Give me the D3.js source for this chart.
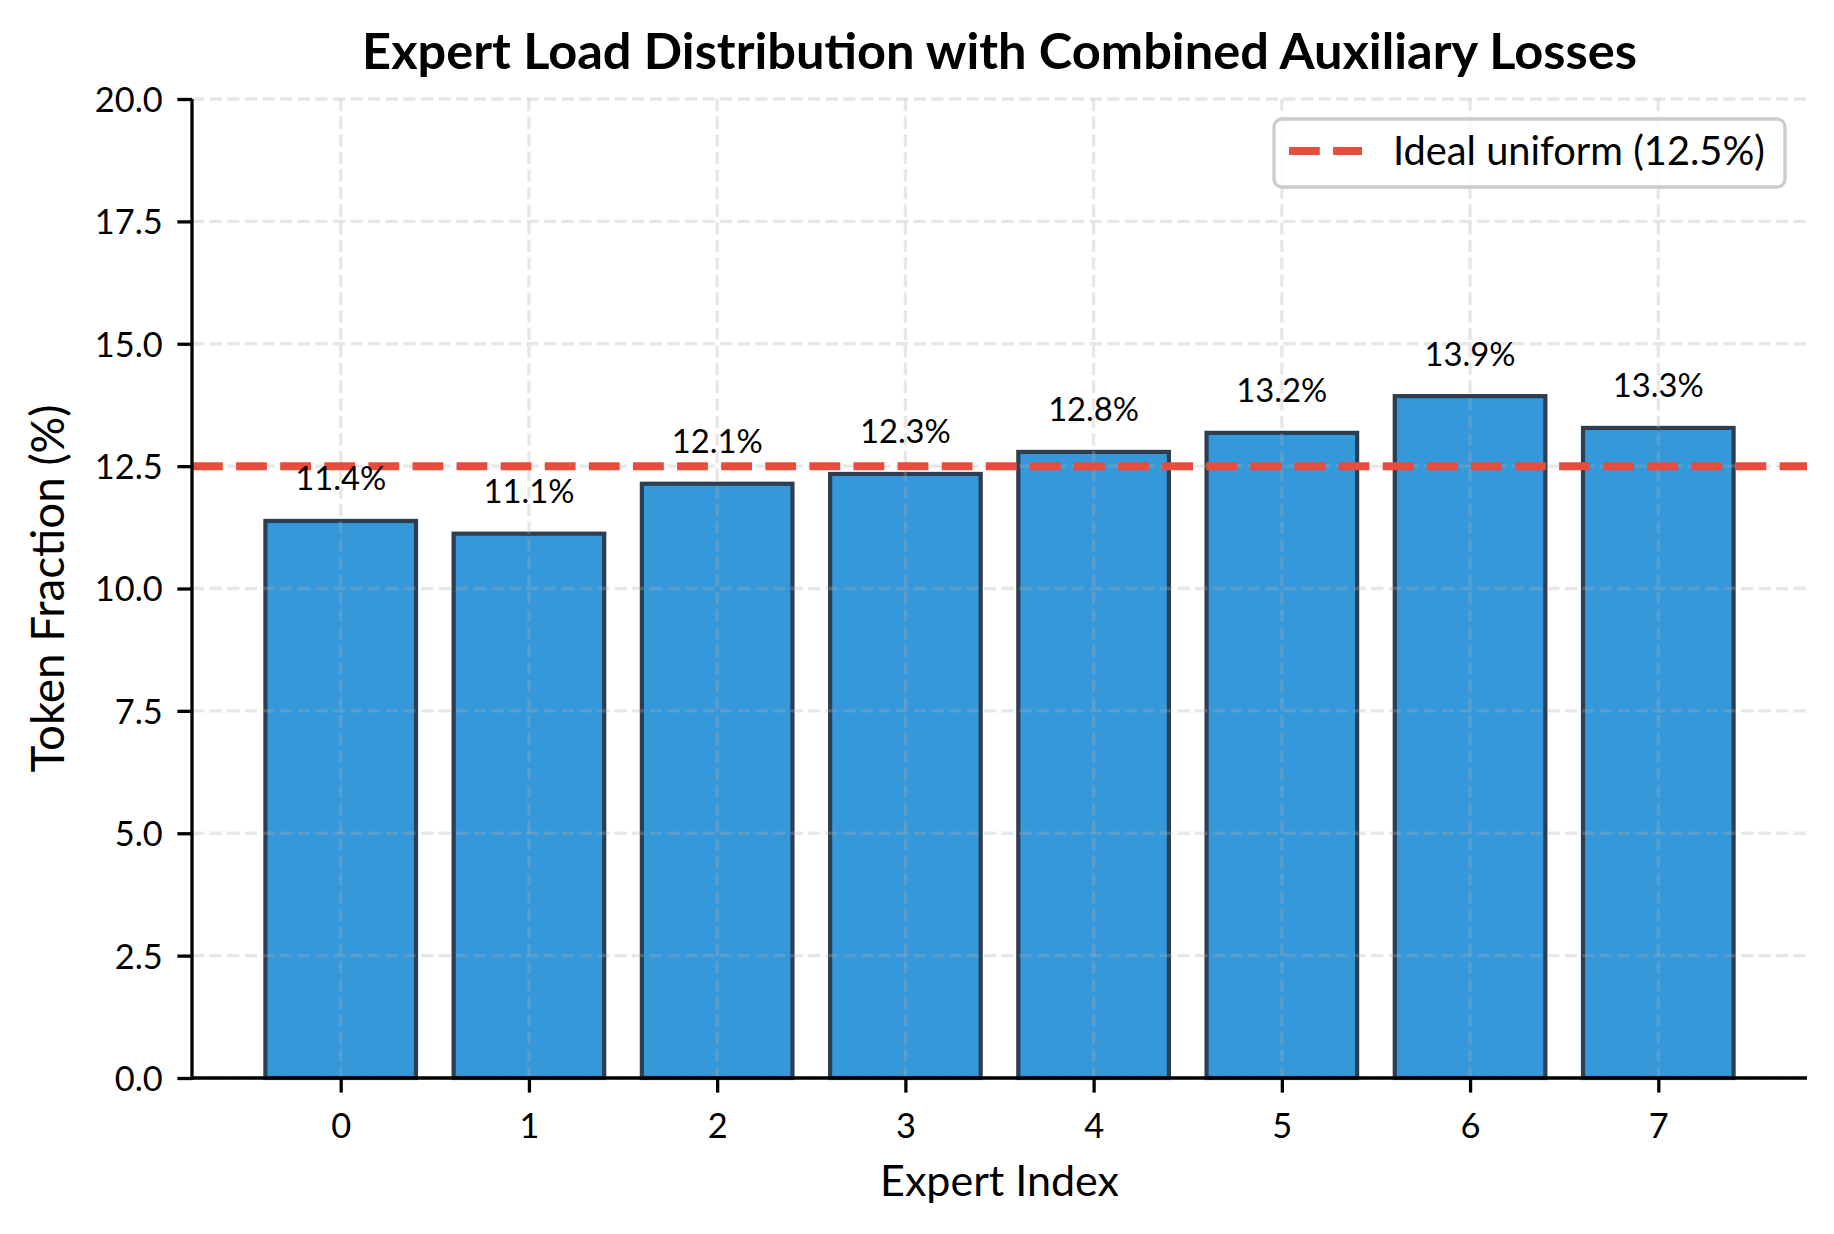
<!DOCTYPE html>
<html>
<head>
<meta charset="utf-8">
<script src="https://cdn.jsdelivr.net/npm/d3@7"></script>
<style>
  html, body { margin: 0; padding: 0; background: #ffffff; }
  svg { display: block; }
</style>
</head>
<body>
<svg id="chart" width="1834" height="1234"></svg>
<script>
// ---- data ----
const experts = [0, 1, 2, 3, 4, 5, 6, 7];
const tokenFraction = [11.38, 11.12, 12.14, 12.34, 12.79, 13.18, 13.93, 13.28];
const idealUniform = 12.5;
const yTicks = [0, 2.5, 5, 7.5, 10, 12.5, 15, 17.5, 20];
const titleText = "Expert Load Distribution with Combined Auxiliary Losses";
const xLabelText = "Expert Index";
const yLabelText = "Token Fraction (%)";
const legendText = "Ideal uniform (12.5%)";

// ---- layout ----
const W = 1834, H = 1234;
const plot = { left: 192, right: 1807, top: 99, bottom: 1078 };
const FONT = "Lato, 'Noto Sans', sans-serif";

const svg = d3.select("#chart");

const x = d3.scaleLinear().domain([-0.79, 7.79]).range([plot.left, plot.right]);
const y = d3.scaleLinear().domain([0, 20]).range([plot.bottom, plot.top]);

// helper: fit font-size so a sample string has the target width
function fitSize(sample, target, weight) {
  const t = svg.append("text").attr("font-family", FONT).attr("font-size", 100)
    .attr("font-weight", weight || "normal").text(sample);
  const w = t.node().getComputedTextLength();
  t.remove();
  return 100 * target / w;
}
const tickSize = fitSize("20.0", 68);
const barLabelSize = fitSize("11.4%", 91);
const titleSize = fitSize(titleText, 1275, "bold");
const xLabelSize = fitSize(xLabelText, 239);
const yLabelSize = fitSize(yLabelText, 368);
const legendSize = fitSize(legendText, 372);

const barW = x(0.8) - x(0);

// ---- bars ----
svg.append("g").selectAll("rect").data(experts).join("rect")
  .attr("x", d => x(d - 0.4))
  .attr("y", (d, i) => y(tokenFraction[i]))
  .attr("width", barW)
  .attr("height", (d, i) => y(0) - y(tokenFraction[i]))
  .attr("fill", "#3498db")
  .attr("stroke", "#2c3e50")
  .attr("stroke-width", 4.2);

// ---- grid (above bars, as in matplotlib) ----
const grid = svg.append("g").attr("stroke", "#b0b0b0").attr("stroke-opacity", 0.3)
  .attr("stroke-width", 3.3).attr("stroke-dasharray", "12.3,5.3");
grid.selectAll("line.h").data(yTicks).join("line").attr("class", "h")
  .attr("x1", plot.left).attr("x2", plot.right)
  .attr("y1", d => y(d)).attr("y2", d => y(d));
grid.selectAll("line.v").data(experts).join("line").attr("class", "v")
  .attr("x1", d => x(d)).attr("x2", d => x(d))
  .attr("y1", plot.top).attr("y2", plot.bottom);

// ---- ideal line ----
svg.append("line")
  .attr("x1", plot.left).attr("x2", plot.right)
  .attr("y1", y(idealUniform)).attr("y2", y(idealUniform))
  .attr("stroke", "#e74c3c").attr("stroke-width", 8)
  .attr("stroke-dasharray", "30.8,13.3");

// ---- axes ----
const yAxis = d3.axisLeft(y).tickValues(yTicks).tickFormat(d3.format(".1f"))
  .tickSize(14.6).tickPadding(14.6);
const gy = svg.append("g").attr("transform", `translate(${plot.left},0)`).call(yAxis);
const xAxis = d3.axisBottom(x).tickValues(experts).tickFormat(d3.format("d"))
  .tickSize(14.6).tickPadding(14.6);
const gx = svg.append("g").attr("transform", `translate(0,${plot.bottom})`).call(xAxis);

[gx, gy].forEach(g => {
  g.select(".domain").remove();
  g.selectAll(".tick line").attr("stroke", "#000").attr("stroke-width", 3.3);
  g.selectAll(".tick text").attr("fill", "#000").attr("font-family", FONT)
    .attr("font-size", tickSize);
});
gy.selectAll(".tick text").attr("dy", "0.36em");
gx.selectAll(".tick text").attr("dy", "0.90em");

// spines (left, bottom)
svg.append("line").attr("x1", plot.left).attr("x2", plot.left)
  .attr("y1", plot.top).attr("y2", plot.bottom + 1.65)
  .attr("stroke", "#000").attr("stroke-width", 3.3);
svg.append("line").attr("x1", plot.left - 1.65).attr("x2", plot.right)
  .attr("y1", plot.bottom).attr("y2", plot.bottom)
  .attr("stroke", "#000").attr("stroke-width", 3.3);

// ---- bar labels ----
svg.append("g").selectAll("text").data(experts).join("text")
  .attr("x", d => x(d))
  .attr("y", (d, i) => y(tokenFraction[i] + 0.5) - 6)
  .attr("text-anchor", "middle")
  .attr("font-family", FONT).attr("font-size", barLabelSize).attr("fill", "#000")
  .text((d, i) => tokenFraction[i].toFixed(1) + "%");

// ---- title & axis labels ----
svg.append("text").attr("x", (plot.left + plot.right) / 2).attr("y", 69)
  .attr("text-anchor", "middle").attr("font-family", FONT).attr("font-weight", "bold")
  .attr("font-size", titleSize).attr("fill", "#000").text(titleText);
svg.append("text").attr("x", (plot.left + plot.right) / 2).attr("y", 1196)
  .attr("text-anchor", "middle").attr("font-family", FONT)
  .attr("font-size", xLabelSize).attr("fill", "#000").text(xLabelText);
svg.append("text")
  .attr("transform", `translate(64,${(plot.top + plot.bottom) / 2}) rotate(-90)`)
  .attr("text-anchor", "middle").attr("font-family", FONT)
  .attr("font-size", yLabelSize).attr("fill", "#000").text(yLabelText);

// ---- legend ----
const lg = svg.append("g");
lg.append("rect").attr("x", 1274).attr("y", 119).attr("width", 511).attr("height", 68)
  .attr("rx", 8).attr("ry", 8)
  .attr("fill", "#ffffff").attr("fill-opacity", 0.8)
  .attr("stroke", "#cccccc").attr("stroke-width", 3.3);
lg.append("line").attr("x1", 1289).attr("x2", 1362).attr("y1", 151).attr("y2", 151)
  .attr("stroke", "#e74c3c").attr("stroke-width", 8).attr("stroke-dasharray", "30.8,13.3");
lg.append("text").attr("x", 1393).attr("y", 151).attr("dy", "0.36em")
  .attr("font-family", FONT).attr("font-size", legendSize).attr("fill", "#000")
  .text(legendText);
</script>
</body>
</html>
